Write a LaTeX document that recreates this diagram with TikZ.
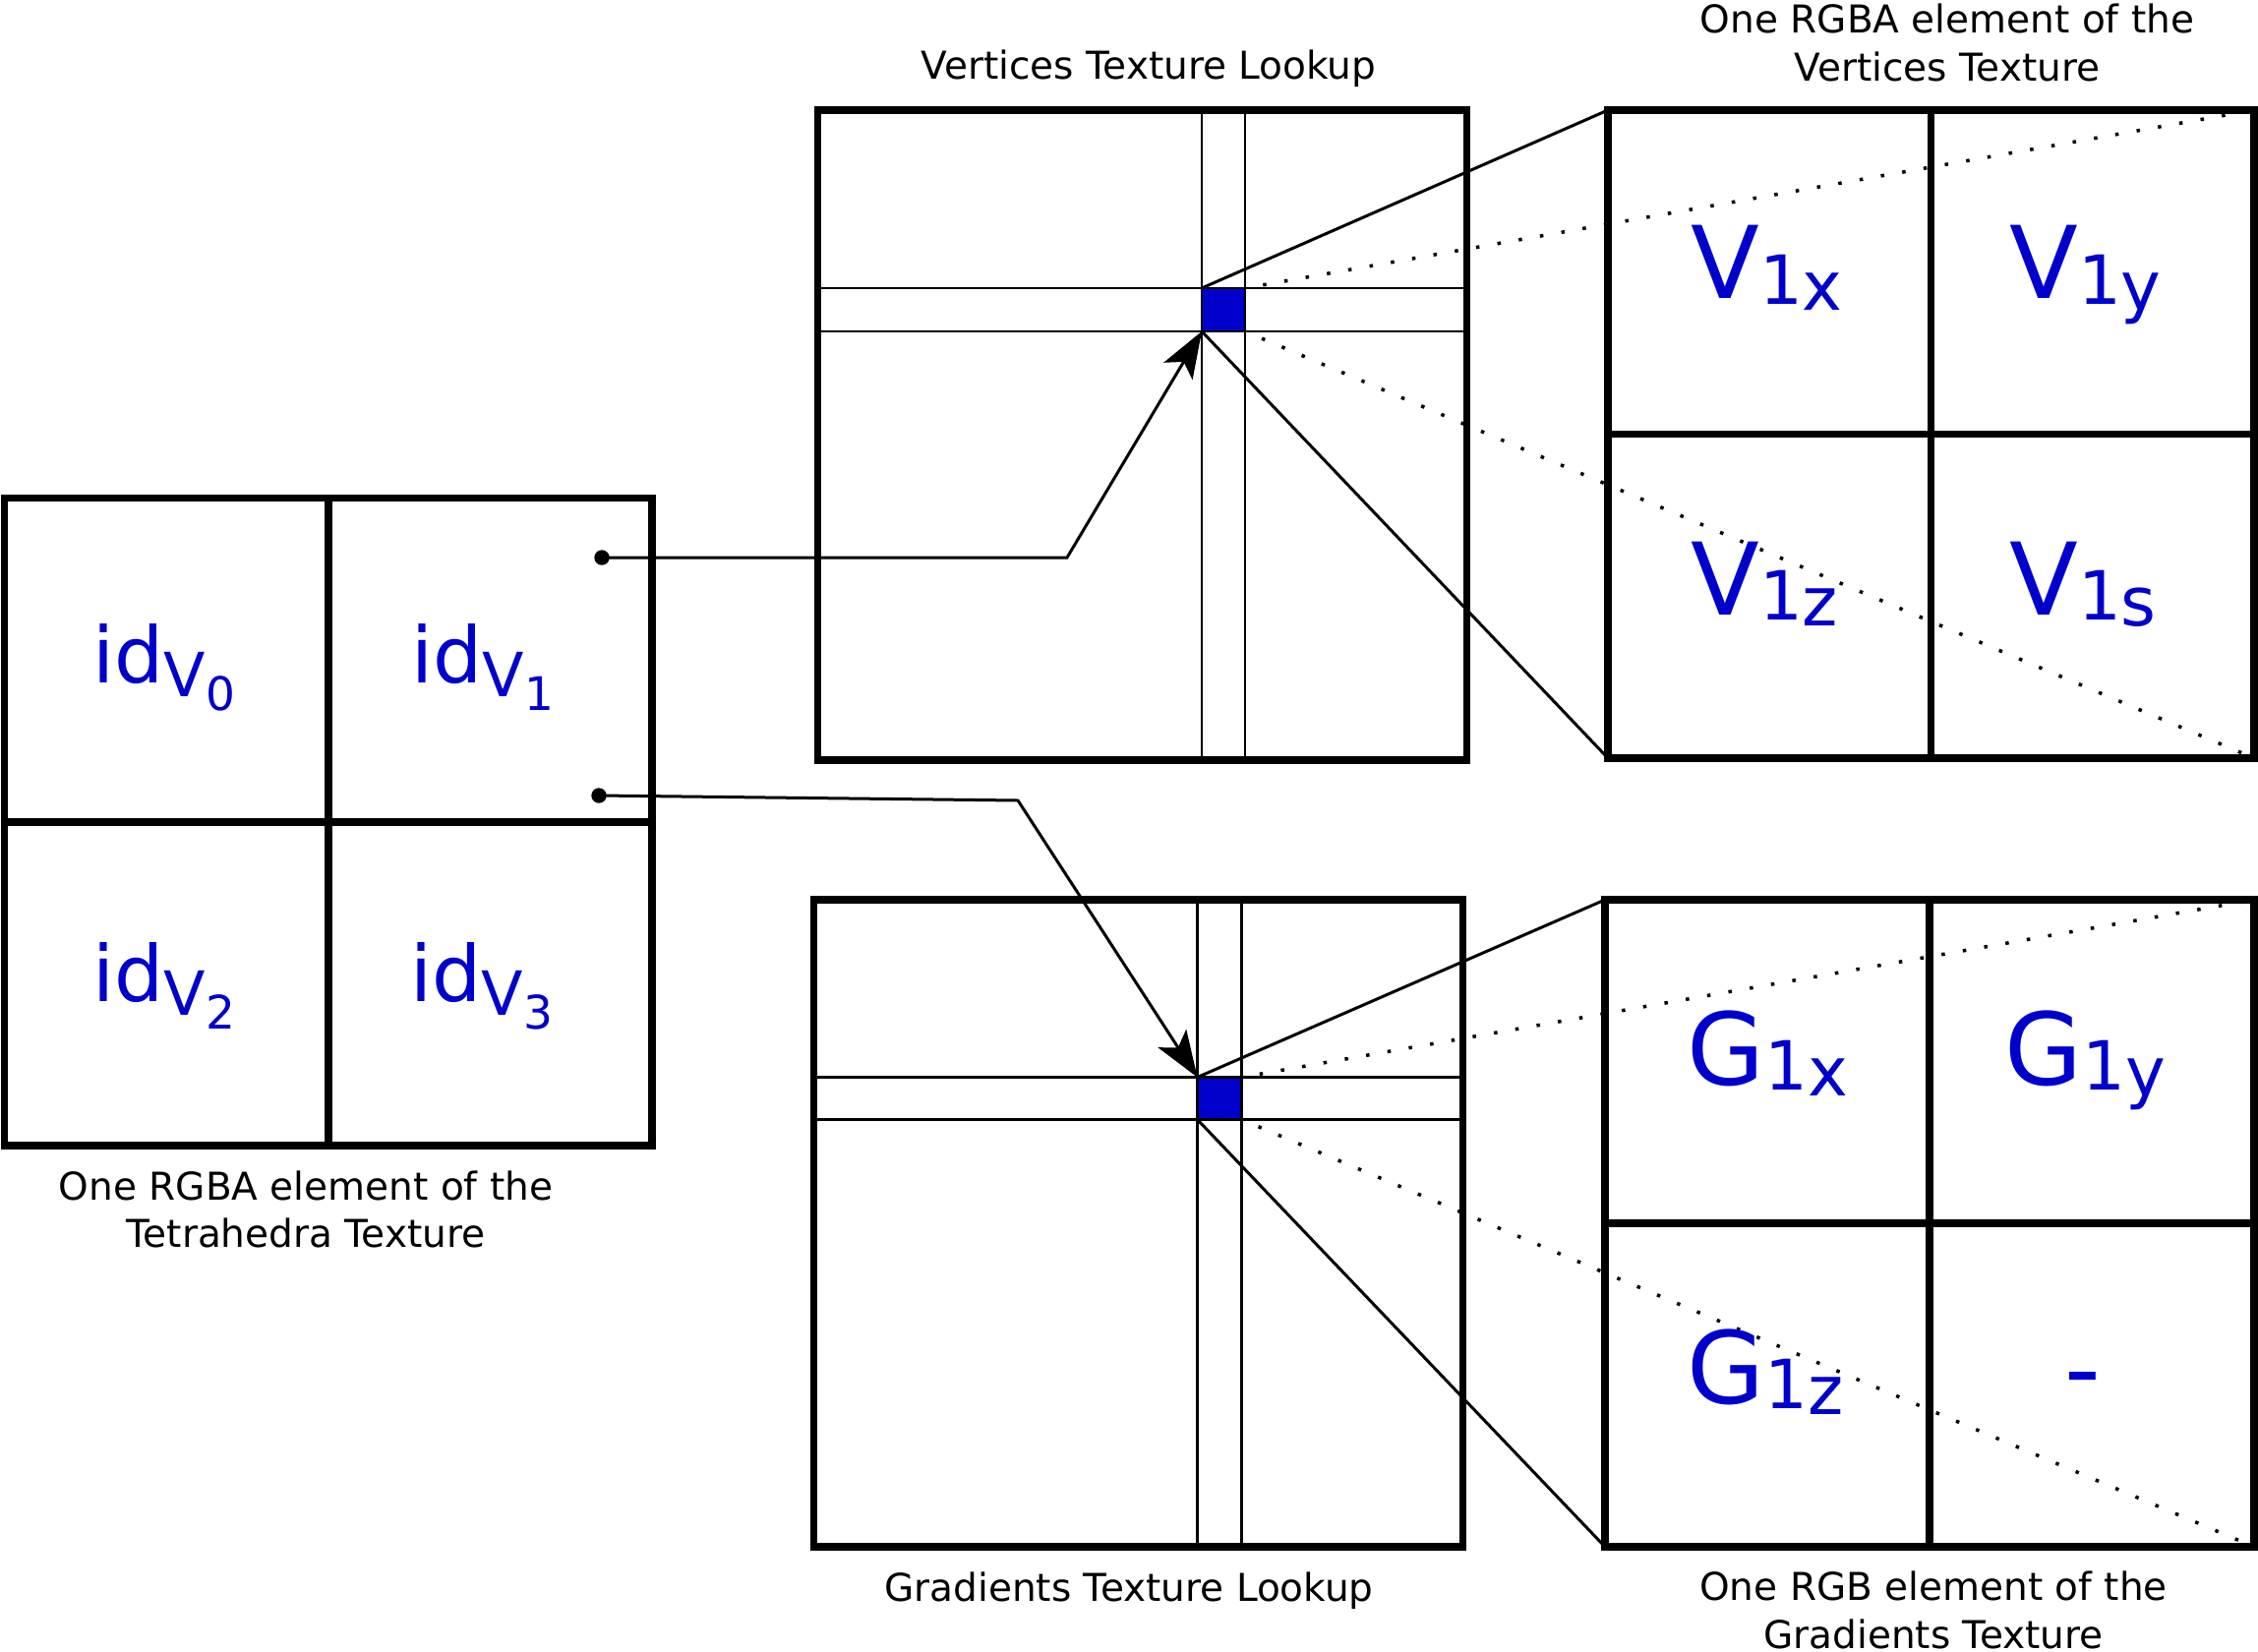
\documentclass[tikz,border=0pt]{standalone}
\usepackage{fontspec}
\setmainfont{DejaVu Sans}
\usetikzlibrary{arrows.meta}
\definecolor{lblblue}{RGB}{0,0,204}
\definecolor{pixblue}{RGB}{0,0,204}
\newcommand{\fsz}[1]{\fontsize{#1}{#1}\selectfont}
\newcommand{\idlab}[1]{{\fsz{79}id}\raisebox{-14pt}{\fsz{62}V\raisebox{-14pt}{\fsz{47}#1}}}
\newcommand{\ellab}[2]{{\fsz{102}#1}\raisebox{-5.5pt}{\fsz{69}1\raisebox{-6pt}{#2}}}
\begin{document}
\begin{tikzpicture}[x=1pt,y=-1pt,
  bigbox/.style={draw, line width=7.5pt, rectangle, inner sep=0pt, outer sep=0pt},
  gridline/.style={line width=2.4pt},
  thickline/.style={line width=7.5pt},
  beam/.style={line width=3pt},
  dotline/.style={line width=3.5pt, dash pattern=on 3.5pt off 18.5pt, dash phase=3.5pt},
  conn/.style={line width=3pt, -{Stealth[length=47pt,width=34pt,inset=11pt]}},
  pix/.style={draw, line width=2.4pt, fill=pixblue, inner sep=0pt, outer sep=0pt},
  captxt/.style={font=\fsz{39}, anchor=base, inner sep=0pt},
  biglbl/.style={text=lblblue, anchor=base west, inner sep=0pt},
  idlbl/.style={text=lblblue, anchor=base, inner sep=0pt},
]
\useasboundingbox (0,0) rectangle (2296,1679);

% ---------- boxes ----------
\node[bigbox, minimum width=658.5pt, minimum height=658.5pt] (L)  at (333.75,835.75) {};
\node[bigbox, minimum width=660pt,   minimum height=661pt]   (MV) at (1161.6,442.5) {};
\node[bigbox, minimum width=660pt,   minimum height=658pt]   (MG) at (1157.6,1244) {};
\node[bigbox, minimum width=657pt,   minimum height=659pt]   (RV) at (1963.5,441.5) {};
\node[bigbox, minimum width=660pt,   minimum height=658pt]   (RG) at (1962,1244) {};

% blue pixels
\node[pix, minimum width=44pt, minimum height=44pt] (pv) at (1244,315) {};
\node[pix, minimum width=45pt, minimum height=43pt] (pg) at (1240,1117) {};

% grid lines in lookup textures
\draw[gridline] (pv.north west |- MV.north) -- (pv.north west |- MV.south);
\draw[gridline] (pv.north east |- MV.north) -- (pv.north east |- MV.south);
\draw[gridline] (pv.north west -| MV.west) -- (pv.north west -| MV.east);
\draw[gridline] (pv.south west -| MV.west) -- (pv.south west -| MV.east);
\draw[gridline] (pg.north west |- MG.north) -- (pg.north west |- MG.south);
\draw[gridline] (pg.north east |- MG.north) -- (pg.north east |- MG.south);
\draw[gridline] (pg.north west -| MG.west) -- (pg.north west -| MG.east);
\draw[gridline] (pg.south west -| MG.west) -- (pg.south west -| MG.east);
\node[pix, minimum width=44pt, minimum height=44pt] at (pv) {};
\node[pix, minimum width=45pt, minimum height=43pt] at (pg) {};

% mid lines of element boxes
\draw[thickline] (L.north) -- (L.south);
\draw[thickline] (L.west) -- (L.east);
\draw[thickline] (RV.north) -- (RV.south);
\draw[thickline] (RV.west) -- (RV.east);
\draw[thickline] (RG.north) -- (RG.south);
\draw[thickline] (RG.west) -- (RG.east);

% zoom beams
\draw[beam] (pv.north west) -- (RV.north west);
\draw[beam] (pv.south west) -- (RV.south west);
\draw[dotline] (pv.north east) -- (RV.north east);
\draw[dotline] (pv.south east) -- (RV.south east);
\draw[beam] (pg.north west) -- (RG.north west);
\draw[beam] (pg.south west) -- (RG.south west);
\draw[dotline] (pg.north east) -- (RG.north east);
\draw[dotline] (pg.south east) -- (RG.south east);

% redraw boxes on top
\node[bigbox, minimum width=658.5pt, minimum height=658.5pt] at (L)  {};
\node[bigbox, minimum width=660pt,   minimum height=661pt]   at (MV) {};
\node[bigbox, minimum width=660pt,   minimum height=658pt]   at (MG) {};
\node[bigbox, minimum width=657pt,   minimum height=659pt]   at (RV) {};
\node[bigbox, minimum width=660pt,   minimum height=658pt]   at (RG) {};

% connectors
\coordinate (d1) at (612,567);
\coordinate (d2) at (609,809);
\coordinate (b1) at (1085,567);
\coordinate (b2) at (1035,814);
\fill (d1) circle (7.7pt);
\fill (d2) circle (7.7pt);
\draw[conn] (d1) -- (b1) -- (pv.south west);
\draw[conn] (d2) -- (b2) -- (pg.north west);

% tetrahedra labels
\node[idlbl] (id0) at (167,694) {\idlab{0}};
\node[idlbl] (id1) at (491,694) {\idlab{1}};
\node[idlbl] (id2) at (167,1018) {\idlab{2}};
\node[idlbl] (id3) at (490,1018) {\idlab{3}};

% vertices element labels
\node[biglbl] (v1x) at (1719,303.6) {\ellab{V}{x}};
\node[biglbl] (v1y) at (2043,303.6) {\ellab{V}{y}};
\node[biglbl] (v1z) at (1719,625) {\ellab{V}{z}};
\node[biglbl] (v1s) at (2043,625) {\ellab{V}{s}};

% gradients element labels
\node[biglbl] (g1x) at (1715,1103) {\ellab{G}{x}};
\node[biglbl] (g1y) at (2038,1103) {\ellab{G}{y}};
\node[biglbl] (g1z) at (1715,1427) {\ellab{G}{z}};
\node[idlbl] (gdash) at (2117.5,1427) {\fsz{102}-};

% captions
\node[captxt] (tv) at (1168,80.6) {Vertices Texture Lookup};
\node[captxt] (tg) at (1148,1628) {Gradients Texture Lookup};
\node[captxt] (rv1) at (1980,33) {One RGBA element of the};
\node[captxt] (rv2) at (1980,82.6) {Vertices Texture};
\node[captxt] (lt1) at (311,1220) {One RGBA element of the};
\node[captxt] (lt2) at (311,1268) {Tetrahedra Texture};
\node[captxt] (rg1) at (1966,1627) {One RGB element of the};
\node[captxt] (rg2) at (1966,1676) {Gradients Texture};
\end{tikzpicture}
\end{document}
